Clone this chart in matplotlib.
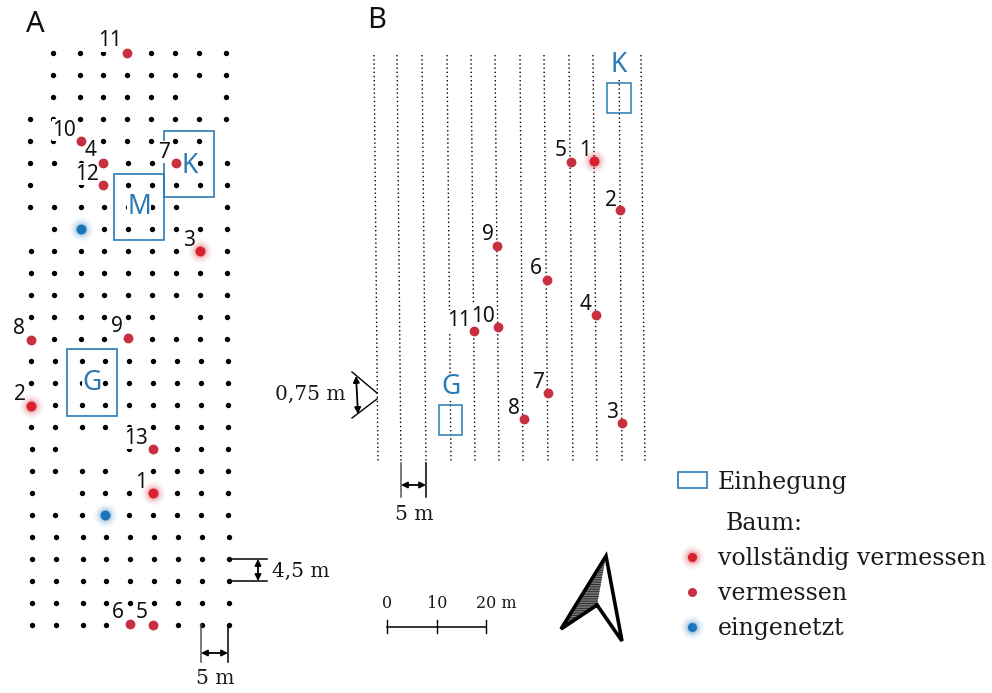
import numpy as np
import matplotlib
matplotlib.use("Agg")
import matplotlib.pyplot as plt
from matplotlib.patches import Rectangle, Polygon

SANS = "Noto Sans"
SERIF = "DejaVu Serif"
BLUE = "#2a7ab5"
RED = "#c8303f"
REDFULL = "#d8202e"
TREEBLUE = "#1b75b8"

# panel A, planting grid
rows_y = [53, 75, 97, 119, 141, 163, 185, 207, 229, 251, 273, 295, 317, 339,
          361, 383, 405, 427, 449, 471, 493, 515, 537, 559, 581, 603, 625]
cols_x = [29.5, 53, 80, 103, 127, 151, 175, 199, 226]
grid_tilt = 0.0052
gaps = [(0, 0), (1, 0), (2, 0), (2, 7), (4, 8), (6, 1), (7, 7), (8, 0), (12, 6),
        (18, 2), (18, 3), (19, 4), (20, 1)]

# panel A, trees (number, x, y, label x, label y)
a_nr = ["11", "10", "4", "12", "7", "3", "8", "9", "2", "13", "1", "6", "5"]
a_x = [127, 81, 103, 103, 176, 200, 31, 128, 31, 153, 153, 129.5, 153]
a_y = [53, 141, 163, 185, 163, 251, 340, 338, 406, 449, 493, 624, 625]
a_lx = [110, 64, 91, 87, 164, 189, 19, 117, 20, 136, 141, 118, 142]
a_ly = [41, 130, 151, 174, 152, 240, 329, 327, 395, 438, 482, 613, 613]
a_full = ["3", "2", "1"]
a_blue_x = [81, 105]
a_blue_y = [229, 515]

# panel A, fences (name, left, top, right, bottom)
a_fence = ["K", "M", "G"]
a_fx0 = [164, 114, 67]
a_fx1 = [214, 164, 117]
a_fy0 = [131, 174, 349]
a_fy1 = [197, 240, 416]
a_fcx = [190, 139, 92]
a_fcy = [166, 207, 383]

# panel B, rows
b_top = [374, 397, 422, 447, 471, 495, 520, 544, 569, 593, 619, 641]
b_bottom = [378, 401, 426, 451, 475, 499, 523, 548, 573, 597, 622, 645]
b_ytop = 55
b_ybottom = 463

# panel B, trees
b_nr = ["1", "5", "2", "9", "6", "4", "11", "10", "7", "8", "3"]
b_x = [594, 571, 620, 497, 546.5, 596, 474, 498, 547.5, 523.5, 622]
b_y = [161, 162, 210, 246, 279.5, 315, 331, 327, 393, 419, 423]
b_lx = [585, 561, 611, 488, 536, 586, 459, 483, 538, 514, 612]
b_ly = [151, 151, 200, 235, 269, 305, 321, 316, 383, 409, 413]
b_full = ["1"]

# panel B, fences
b_fence = ["K", "G"]
b_fx0 = [607, 439]
b_fx1 = [631, 462]
b_fy0 = [83, 405]
b_fy1 = [113, 435]
b_fcx = [619, 451]
b_fcy = [65, 387]

# scale bar
scale_x = [387, 437, 486]
scale_label_x = [387, 437, 496]
scale_labels = ["0", "10", "20 m"]

# legend
legend_labels = ["vollständig vermessen", "vermessen", "eingenetzt"]
legend_y = [557, 592, 627]


def tree(ax, x, y, color, glow=False, size=50):
    if glow:
        for s, a in zip([300, 210, 140, 90, 60], [0.04, 0.06, 0.09, 0.13, 0.18]):
            ax.scatter(x, y, s=s, color=color, alpha=a, lw=0, zorder=5)
    ax.scatter(x, y, s=size, color=color, lw=0, zorder=6)


def label(ax, x, y, s, size=15, color="#111111", box=True):
    bb = dict(facecolor="white", edgecolor="none", pad=0.2) if box else None
    ax.text(x, y, s, fontsize=size, color=color, family=SANS, ha="center",
            va="center", bbox=bb, zorder=4)


def dim_text(ax, x, y, s, size=14.5, ha="center"):
    ax.text(x, y, s, fontsize=size, family=SERIF, color="#1a1a1a", ha=ha, va="center", zorder=4)


def arrow(ax, x0, y0, x1, y1):
    ax.annotate("", xy=(x1, y1), xytext=(x0, y0), zorder=4,
                arrowprops=dict(arrowstyle="<|-|>", color="black", lw=1.3,
                                mutation_scale=9, shrinkA=0, shrinkB=0))


fig = plt.figure(figsize=(9.92, 6.93), dpi=100)
ax = fig.add_axes([0, 0, 1, 1])
ax.set_xlim(0, 992)
ax.set_ylim(693, 0)
ax.axis("off")

# panel A
gx, gy = [], []
for r, y in enumerate(rows_y):
    for c, x in enumerate(cols_x):
        if (r, c) not in gaps:
            gx.append(x + (y - rows_y[0]) * grid_tilt)
            gy.append(y)
ax.scatter(gx, gy, s=15, color="black", lw=0, zorder=1)

for i in range(len(a_fence)):
    ax.add_patch(Rectangle((a_fx0[i], a_fy0[i]), a_fx1[i] - a_fx0[i], a_fy1[i] - a_fy0[i],
                           fill=False, edgecolor=BLUE, lw=1.2, zorder=2))
    label(ax, a_fcx[i], a_fcy[i], a_fence[i], size=19, color=BLUE)

for i in range(len(a_nr)):
    label(ax, a_lx[i], a_ly[i], a_nr[i])
    if a_nr[i] in a_full:
        tree(ax, a_x[i], a_y[i], REDFULL, glow=True)
    else:
        tree(ax, a_x[i], a_y[i], RED)
for x, y in zip(a_blue_x, a_blue_y):
    tree(ax, x, y, TREEBLUE, glow=True)

ax.text(35, 25, "A", fontsize=21, family=SANS, color="#111111", ha="center", va="center")
ax.text(377, 21, "B", fontsize=21, family=SANS, color="#111111", ha="center", va="center")

# spacing marks, panel A
ax.plot([229, 267], [559, 559], color="black", lw=1.1, zorder=3)
ax.plot([229, 267], [581, 581], color="black", lw=1.1, zorder=3)
arrow(ax, 258, 559, 258, 581)
dim_text(ax, 272, 571, "4,5 m", ha="left")
ax.plot([201, 201], [625, 662], color="#555555", lw=1.1, zorder=3)
ax.plot([228, 228], [625, 662], color="black", lw=1.1, zorder=3)
arrow(ax, 201, 653, 228, 653)
dim_text(ax, 215, 679, "5 m")

# panel B
for x0, x1 in zip(b_top, b_bottom):
    ax.plot([x0, x1], [b_ytop, b_ybottom], color="black", lw=1, ls=(0, (1, 2)), zorder=1)

for i in range(len(b_fence)):
    ax.add_patch(Rectangle((b_fx0[i], b_fy0[i]), b_fx1[i] - b_fx0[i], b_fy1[i] - b_fy0[i],
                           fill=False, edgecolor=BLUE, lw=1.1, zorder=2))
    label(ax, b_fcx[i], b_fcy[i], b_fence[i], size=19, color=BLUE)

for i in range(len(b_nr)):
    label(ax, b_lx[i], b_ly[i], b_nr[i])
    if b_nr[i] in b_full:
        tree(ax, b_x[i], b_y[i], REDFULL, glow=True)
    else:
        tree(ax, b_x[i], b_y[i], RED)

# spacing marks, panel B
ax.plot([352, 377], [372, 393], color="black", lw=1, zorder=3)
ax.plot([352, 377], [418, 399], color="black", lw=1, zorder=3)
arrow(ax, 356, 376, 358, 414)
dim_text(ax, 275, 394, "0,75 m", ha="left")
ax.plot([401, 401], [463, 497], color="#555555", lw=1.1, zorder=3)
ax.plot([426, 426], [463, 497], color="black", lw=1.1, zorder=3)
arrow(ax, 401, 485, 426, 485)
dim_text(ax, 414, 515, "5 m")

# scale bar
ax.plot([scale_x[0], scale_x[-1]], [627, 627], color="black", lw=1.1)
for x in scale_x:
    ax.plot([x, x], [620, 633], color="black", lw=1)
for x, s in zip(scale_label_x, scale_labels):
    ax.text(x, 603, s, fontsize=11.5, family=SERIF, color="#1a1a1a", ha="center", va="center")

# north arrow
plt.rcParams["hatch.linewidth"] = 0.6
ax.add_patch(Polygon([(606, 556), (561, 629), (597, 605)], closed=True, facecolor="#777777",
                     edgecolor="#222222", hatch="-------", lw=0))
ax.plot([597, 561, 606, 622, 597], [605, 629, 556, 641, 605], color="black", lw=2.6,
        solid_joinstyle="miter", zorder=3)

# legend
ax.add_patch(Rectangle((678, 472), 29, 16, fill=False, edgecolor=BLUE, lw=1.2))
ax.text(718, 482, "Einhegung", fontsize=17, family=SERIF, color="#1a1a1a", ha="left", va="center")
ax.text(726, 523, "Baum:", fontsize=17, family=SERIF, color="#1a1a1a", ha="left", va="center")
tree(ax, 692, legend_y[0], REDFULL, glow=True, size=42)
tree(ax, 692, legend_y[1], RED, size=42)
tree(ax, 692, legend_y[2], TREEBLUE, glow=True, size=42)
for y, s in zip(legend_y, legend_labels):
    ax.text(718, y + 1, s, fontsize=17, family=SERIF, color="#1a1a1a", ha="left", va="center")

fig.savefig("out.png", dpi=100)
